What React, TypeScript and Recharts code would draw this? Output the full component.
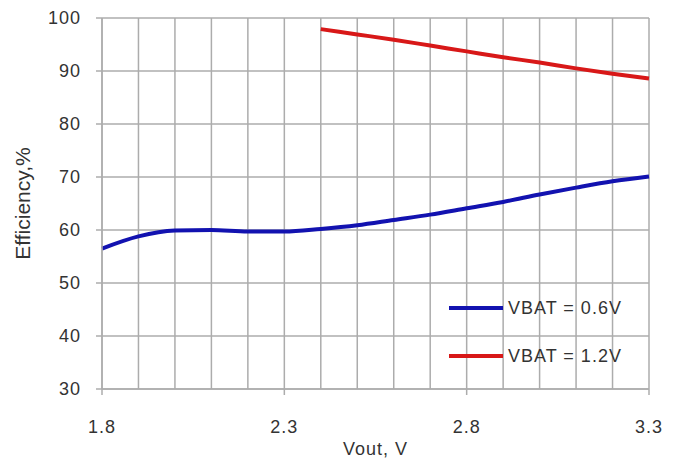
import { LineChart, Line, XAxis, YAxis, CartesianGrid, Label } from "recharts";

const vout = [1.8, 1.9, 2.0, 2.1, 2.2, 2.3, 2.4, 2.5, 2.6, 2.7, 2.8, 2.9, 3.0, 3.1, 3.2, 3.3];
const vbat06 = [56.5, 58.8, 59.9, 60.0, 59.7, 59.7, 60.2, 60.9, 61.9, 62.9, 64.1, 65.3, 66.7, 68.0, 69.2, 70.1];
const vbat12 = [null, null, null, null, null, null, 97.9, 96.9, 95.9, 94.8, 93.7, 92.6, 91.6, 90.5, 89.5, 88.6];
const xTicks = [1.8, 2.3, 2.8, 3.3];
const yTicks = [30, 40, 50, 60, 70, 80, 90, 100];

const data = vout.map((v, i) => ({ vout: v, low: vbat06[i], high: vbat12[i] }));

const font = "'Liberation Sans', Arial, sans-serif";
const gridColor = "#acacac";
const textStyle = { fontSize: 18, fill: "#333", fontFamily: font, letterSpacing: 1 };

const legendItems = [
    { label: "VBAT = 0.6V", color: "#1212b0" },
    { label: "VBAT = 1.2V", color: "#d81818" },
];

function LegendBox() {
    return (
        <div style={{ position: "absolute", left: 449, top: 284, fontFamily: font, fontSize: 18, letterSpacing: 1, color: "#333" }}>
            {legendItems.map(item => (
                <div key={item.label} style={{ display: "flex", alignItems: "center", height: 48 }}>
                    <div style={{ width: 54, height: 4, background: item.color, marginRight: 5 }} />
                    <span>{item.label}</span>
                </div>
            ))}
        </div>
    );
}

export default function App() {
    return (
        <div style={{ position: "relative", margin: "-8px 0 0 -8px", width: 678, height: 458, background: "#fff" }}>
            <LineChart width={678} height={458} data={data} margin={{ top: 18, right: 29, bottom: 29, left: 40 }}>
                <CartesianGrid stroke={gridColor} strokeWidth={1.5} verticalValues={vout} horizontalValues={yTicks} />
                <XAxis
                    dataKey="vout"
                    type="number"
                    domain={[1.8, 3.3]}
                    ticks={xTicks}
                    tickFormatter={(v: number) => v.toFixed(1)}
                    height={40}
                    stroke={gridColor}
                    strokeWidth={1.5}
                    tickSize={6}
                    tick={{ ...textStyle, dy: 23 }}
                >
                    <Label value="Vout, V" position="insideBottom" offset={-26} style={textStyle} />
                </XAxis>
                <YAxis
                    type="number"
                    domain={[30, 100]}
                    ticks={yTicks}
                    width={62}
                    stroke={gridColor}
                    strokeWidth={1.5}
                    tickSize={6}
                    tick={{ ...textStyle, dx: -13 }}
                >
                    <Label value="Efficiency,%" angle={-90} position="insideLeft" offset={-17} style={{ fontSize: 21, fill: "#333", fontFamily: font, textAnchor: "middle" }} />
                </YAxis>
                <Line type="monotone" dataKey="low" stroke="#1212b0" strokeWidth={4} dot={false} isAnimationActive={false} />
                <Line type="monotone" dataKey="high" stroke="#d81818" strokeWidth={4} dot={false} isAnimationActive={false} />
            </LineChart>
            <LegendBox />
        </div>
    );
}
